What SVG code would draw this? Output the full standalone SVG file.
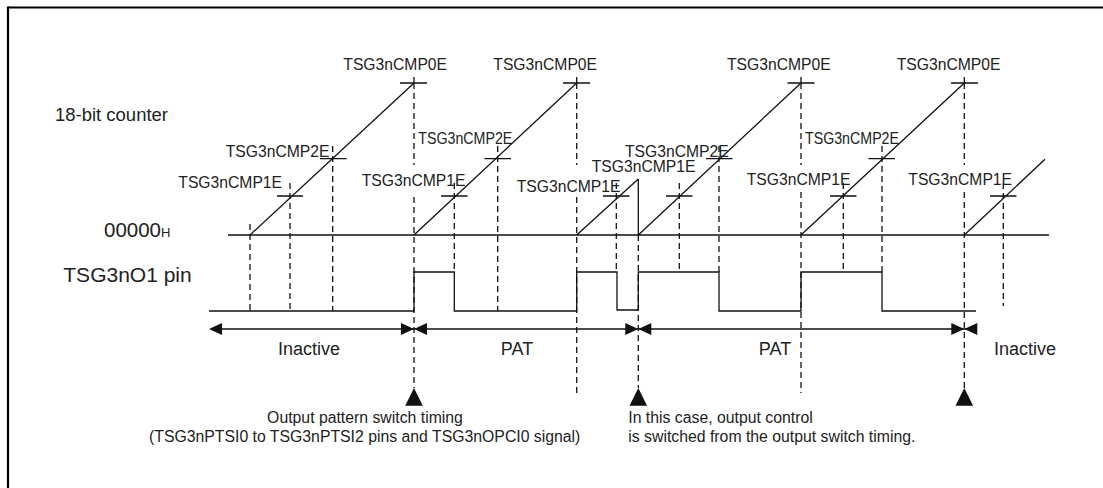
<svg xmlns="http://www.w3.org/2000/svg" width="1103" height="488" viewBox="0 0 1103 488">
<style>
text{font-family:"Liberation Sans",Arial,sans-serif;fill:#222;}
.s{font-size:15.7px;}
.m{font-size:18px;}
.ln{stroke:#111;stroke-width:1.3;fill:none;}
.d{stroke:#111;stroke-width:1.3;fill:none;stroke-dasharray:6 4;}
.ar{fill:#111;}
</style>
<rect x="0" y="0" width="1103" height="488" fill="#fff"/>
<g id="frame">
<line x1="8" y1="7.5" x2="1103" y2="7.5" stroke="#000" stroke-width="2.2"/>
<line x1="8" y1="6.5" x2="8" y2="488" stroke="#000" stroke-width="2.2"/>
</g>
<g id="axis-labels">
<text x="55" y="120.7" class="m" textLength="113" lengthAdjust="spacingAndGlyphs">18-bit counter</text>
<text x="104" y="236.7" style="font-size:20.5px">00000<tspan style="font-size:13px">H</tspan></text>
<text x="63.3" y="281.7" style="font-size:21px">TSG3nO1 pin</text>
</g>
<g id="connectors">
<line class="ln" x1="228" y1="235" x2="1049" y2="235"/>
<line class="ln" x1="250" y1="235" x2="414" y2="83"/>
<line class="ln" x1="414" y1="235" x2="576.7" y2="83"/>
<line class="ln" x1="576.7" y1="235" x2="638.3" y2="179"/>
<line class="ln" x1="638.3" y1="179" x2="638.3" y2="235"/>
<line class="ln" x1="638.3" y1="235" x2="801" y2="83"/>
<line class="ln" x1="801" y1="235" x2="964.3" y2="83"/>
<line class="ln" x1="964.3" y1="235" x2="1045" y2="159.3"/>
<path class="ln" d="M400,83H427M414,77V83 M563,83H590M576.7,77V83 M787.5,83H814.5M801,77V83 M951,83H978M964.3,77V83"/>
<path class="ln" d="M277,196H303M320,158.7H346.7 M441,196H467.5M484.5,158.7H511 M603,196H629.5 M666,196H692.5M706,158.7H732.5 M830,196H856.5M868.5,158.7H895 M990,196H1016.5"/>
<path class="d" d="M250,224V311 M290,183V311 M332.7,146V311"/>
<path class="d" d="M414,83V165 M414,197V388"/>
<path class="d" d="M454.3,183V272 M497.7,146V311"/>
<path class="d" d="M576.7,83V165 M576.7,197V393"/>
<path class="d" d="M616.3,183V272 M638.3,235V388 M679.3,183V272 M719,146V272"/>
<path class="d" d="M801,83V165 M801,192V393"/>
<path class="d" d="M843.3,183V272 M882,146V272"/>
<path class="d" d="M964.3,83V165 M964.3,192V388"/>
<path class="d" d="M1003.3,183V306"/>
<path class="ln" stroke-width="1.5" d="M209,311H414V272H454.3V311H576.7V272H617V310H638.3V272H719V311H801V272H882V311H976"/>
<line class="ln" x1="212" y1="329" x2="976" y2="329"/>
<path class="ar" d="M209,329L222,323V335Z M414,329L401,323V335Z M414,329L427,323V335Z M638.3,329L625.3,323V335Z M638.3,329L651.3,323V335Z M964.3,329L951.3,323V335Z M964.3,329L977.3,323V335Z"/>
<path class="ar" d="M414,388L422.8,405.7H405.2Z M638.3,388L647.1,405.7H629.5Z M964.3,388L973.1,405.7H955.5Z"/>
</g>
<g id="cmp-labels">
<text x="343.3" y="70" class="s">TSG3nCMP0E</text>
<text x="493.3" y="70" class="s">TSG3nCMP0E</text>
<text x="727" y="70" class="s">TSG3nCMP0E</text>
<text x="896.7" y="70" class="s">TSG3nCMP0E</text>
<text x="225.7" y="157.3" class="s">TSG3nCMP2E</text>
<text x="418.3" y="144" class="s" textLength="94" lengthAdjust="spacingAndGlyphs">TSG3nCMP2E</text>
<text x="625" y="156.7" class="s">TSG3nCMP2E</text>
<text x="805" y="144" class="s" textLength="94" lengthAdjust="spacingAndGlyphs">TSG3nCMP2E</text>
<text x="178.3" y="188.3" class="s">TSG3nCMP1E</text>
<text x="361.7" y="186" class="s">TSG3nCMP1E</text>
<text x="516.7" y="191.7" class="s">TSG3nCMP1E</text>
<text x="591.7" y="172.3" class="s">TSG3nCMP1E</text>
<text x="746.7" y="185" class="s">TSG3nCMP1E</text>
<text x="908.3" y="185" class="s">TSG3nCMP1E</text>
</g>
<g id="period-labels">
<text x="309" y="355" class="m" text-anchor="middle">Inactive</text>
<text x="517" y="355" class="m" text-anchor="middle">PAT</text>
<text x="775" y="355" class="m" text-anchor="middle">PAT</text>
<text x="1025" y="355" class="m" text-anchor="middle">Inactive</text>
</g>
<g id="notes">
<text x="365" y="423.3" class="s" text-anchor="middle" style="font-size:15.8px">Output pattern switch timing</text>
<text x="364.7" y="441.7" class="s" text-anchor="middle" style="font-size:15.8px">(TSG3nPTSI0 to TSG3nPTSI2 pins and TSG3nOPCI0 signal)</text>
<text x="628.3" y="423.3" class="s" style="font-size:15.8px">In this case, output control</text>
<text x="628.3" y="441.7" class="s" style="font-size:15.8px">is switched from the output switch timing.</text>
</g>
</svg>
